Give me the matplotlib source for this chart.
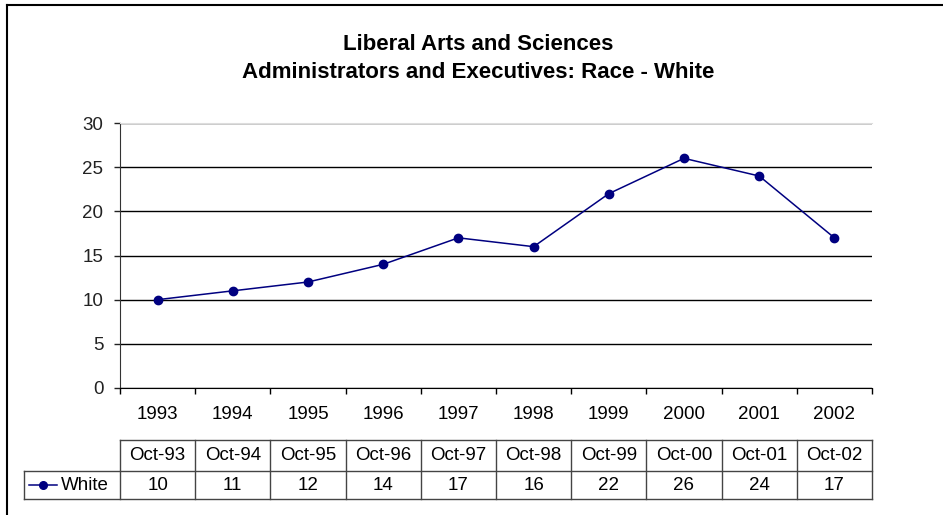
import matplotlib
matplotlib.use("Agg")
from matplotlib import pyplot as plt
from matplotlib.lines import Line2D
import numpy as np

years = ["1993", "1994", "1995", "1996", "1997", "1998", "1999", "2000", "2001", "2002"]
months = ["Oct-93", "Oct-94", "Oct-95", "Oct-96", "Oct-97", "Oct-98", "Oct-99", "Oct-00", "Oct-01", "Oct-02"]
white = [10, 11, 12, 14, 17, 16, 22, 26, 24, 17]
series_name = "White"

W, H = 943, 515
plt.rcParams['font.family'] = ['Liberation Sans', 'DejaVu Sans']
fs = 13.5

fig = plt.figure(figsize=(W / 100, H / 100), dpi=100)
ax = fig.add_axes([120 / W, 1 - 388 / H, 752 / W, 265 / H])

x = np.arange(len(years))
line_color = "#000080"
ax.plot(x, white, color=line_color, lw=1.1, marker="o", ms=6, zorder=3)

ax.set_xlim(-0.5, len(years) - 0.5)
ax.set_ylim(0, 30)
ax.set_yticks(range(0, 31, 5))
ax.tick_params(axis="y", labelsize=fs, length=4, width=1, pad=8, colors="#222222")
ax.yaxis.grid(True, color="black", lw=1)
ax.set_axisbelow(True)

# category boundaries as major ticks, year labels on minor ticks
ax.set_xticks(np.arange(-0.5, len(years), 1.0))
ax.set_xticklabels([])
ax.set_xticks(x, minor=True)
ax.set_xticklabels(years, minor=True)
ax.tick_params(axis="x", which="major", length=4, width=1)
ax.tick_params(axis="x", which="minor", length=0, labelsize=fs, pad=13)

ax.spines["right"].set_visible(False)
ax.spines["top"].set_color("#dddddd")
ax.spines["left"].set_color("#333333")
ax.spines["bottom"].set_color("black")

# data table under the axis
tr = ax.get_xaxis_transform()
row_top = (388 - 440) / 265
row_mid = (388 - 471) / 265
row_bot = (388 - 499) / 265
tcol = "#444444"
left_edge = (24 - 120) / 75.2 - 0.5
ax.plot([-0.5, 9.5], [row_top, row_top], color=tcol, lw=1, transform=tr, clip_on=False)
ax.plot([left_edge, 9.5], [row_mid, row_mid], color=tcol, lw=1, transform=tr, clip_on=False)
ax.plot([left_edge, 9.5], [row_bot, row_bot], color=tcol, lw=1, transform=tr, clip_on=False)
ax.plot([left_edge, left_edge], [row_mid, row_bot], color=tcol, lw=1, transform=tr, clip_on=False)
for b in np.arange(-0.5, len(years), 1.0):
    ax.plot([b, b], [row_top, row_bot], color=tcol, lw=1, transform=tr, clip_on=False)
for i in range(len(years)):
    ax.text(i, (row_top + row_mid) / 2, months[i], ha="center", va="center",
            fontsize=fs, transform=tr)
    ax.text(i, (row_mid + row_bot) / 2, str(white[i]), ha="center", va="center",
            fontsize=fs, transform=tr)

# legend key in the table
ky = (row_mid + row_bot) / 2
k0, k1 = (29 - 120) / 75.2 - 0.5, (57 - 120) / 75.2 - 0.5
ax.plot([k0, k1], [ky, ky], color=line_color, lw=1.1, transform=tr, clip_on=False)
ax.plot([(k0 + k1) / 2], [ky], color=line_color, marker="o", ms=5.5, transform=tr, clip_on=False)
ax.text((61 - 120) / 75.2 - 0.5, ky, series_name, ha="left", va="center", fontsize=fs, transform=tr)

# titles
fig.text(478 / W, 1 - 44 / H, "Liberal Arts and Sciences", ha="center", va="center",
         fontsize=16, fontweight="bold")
fig.text(478 / W, 1 - 73 / H, "Administrators and Executives: Race - White", ha="center",
         va="center", fontsize=16, fontweight="bold")

# chart area border (top and left visible)
fig.add_artist(Line2D([7 / W, 1], [1 - 5 / H, 1 - 5 / H], transform=fig.transFigure, color="black", lw=1.5))
fig.add_artist(Line2D([7 / W, 7 / W], [1 - 5 / H, 0], transform=fig.transFigure, color="black", lw=1.5))

fig.savefig("out.png", dpi=100)
